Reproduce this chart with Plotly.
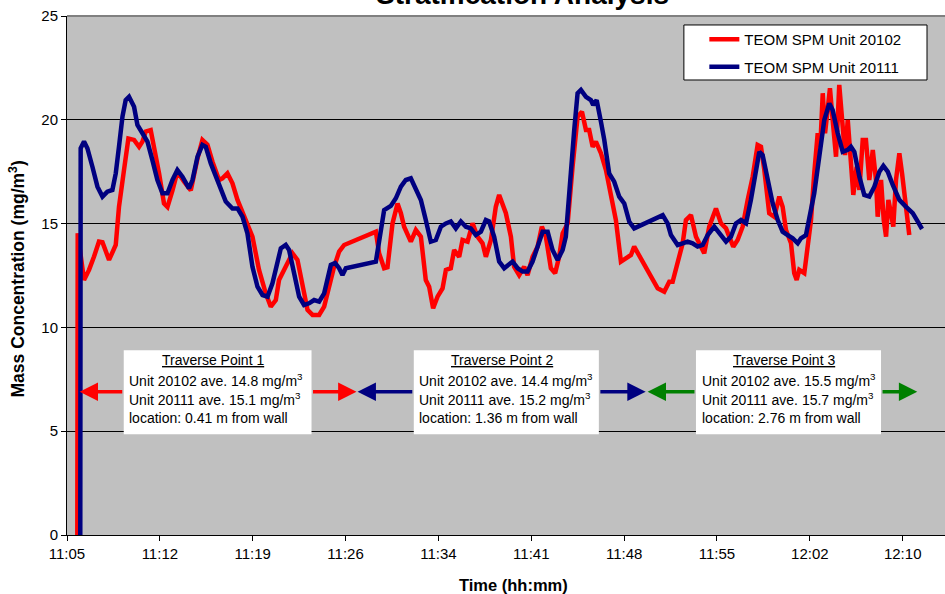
import plotly.graph_objects as go

# ---- data (time in minutes after 11:05, concentration in mg/m3) ----
red_t = [0.80, 0.83, 1.32, 1.71, 2.09, 2.48, 2.75, 3.00, 3.26, 3.78, 4.03, 4.42, 4.76, 5.20, 5.59,
         5.85, 6.10, 6.49, 6.75, 7.14, 7.52, 7.79, 8.18, 8.56, 9.08, 9.60, 10.12, 10.50, 10.89,
         11.28, 11.79, 12.05, 12.44, 12.83, 13.22, 13.86, 14.38, 14.89, 15.41, 15.80, 16.19,
         16.44, 16.96, 17.48, 17.87, 18.26, 18.65, 19.04, 19.55, 19.94, 20.32, 20.71, 21.10,
         21.49, 23.95, 24.20, 24.59, 24.85, 25.24, 25.63, 25.89, 26.14, 26.66, 27.05, 27.44,
         27.82, 28.08, 28.39, 28.73, 29.12, 29.38, 29.76, 30.02, 30.41, 30.67, 31.06, 31.45,
         31.83, 32.22, 32.48, 32.87, 33.25, 33.51, 33.77, 34.03, 34.42, 34.67, 35.06, 35.45,
         35.71, 36.10, 36.49, 36.82, 37.13, 37.52, 37.85, 38.16, 38.43, 38.82, 39.20, 39.59,
         39.93, 40.24, 40.49, 40.76, 41.01, 41.40, 41.79, 42.18, 42.56, 42.95, 43.34, 43.73,
         43.98, 45.80, 46.31, 46.70, 46.96, 47.35, 47.74, 47.99, 48.38, 48.77, 49.02, 49.41,
         49.80, 50.32, 50.71, 51.10, 51.35, 51.66, 52.00, 52.39, 52.78, 53.17, 53.55, 53.81,
         54.07, 54.45, 54.84, 55.23, 55.49, 55.75, 56.14, 56.39, 56.58, 56.78, 57.17, 57.43,
         57.69, 57.94, 58.21, 58.41, 58.60, 58.78, 58.93, 59.16, 59.37, 59.63, 59.88, 60.15,
         60.33, 60.54, 60.71, 60.97, 61.23, 61.44, 61.70, 61.95, 62.21, 62.48, 62.73, 62.86,
         63.12, 63.33, 63.51, 63.69, 63.89, 64.07, 64.28, 64.54, 64.75, 64.93, 65.14, 65.31]
red_v = [0.0, 14.53, 12.28, 12.77, 13.40, 14.13, 14.10, 13.73, 13.25, 13.97, 15.80, 17.58, 19.10,
         19.03, 18.70, 18.95, 19.43, 19.50, 18.70, 17.42, 15.97, 15.80, 16.60, 17.50, 17.02,
         16.60, 18.14, 19.03, 18.80, 17.98, 17.10, 17.18, 17.42, 16.94, 16.14, 15.17, 14.37,
         12.77, 11.64, 11.00, 11.32, 12.28, 12.92, 13.57, 13.25, 12.12, 10.84, 10.60, 10.60,
         11.00, 11.96, 12.92, 13.65, 13.97, 14.61, 13.57, 12.85, 12.90, 15.01, 15.97, 15.50,
         14.85, 14.13, 14.69, 14.37, 12.28, 11.96, 10.92, 11.48, 11.88, 12.77, 12.85, 13.73,
         13.40, 14.21, 14.13, 15.01, 14.37, 14.05, 13.40, 14.21, 15.81, 16.38, 15.97, 15.50,
         14.37, 12.92, 12.52, 12.92, 12.52, 13.40, 13.89, 14.85, 14.37, 12.85, 12.61, 13.40,
         14.53, 15.01, 17.74, 20.15, 20.39, 19.51, 19.51, 18.70, 18.95, 18.39, 17.58, 16.30,
         15.17, 13.17, 13.33, 13.49, 13.89, 11.88, 11.72, 12.20, 12.20, 13.17, 14.05, 15.17,
         15.41, 14.37, 14.05, 13.57, 14.85, 15.73, 15.01, 14.77, 14.37, 13.89, 14.21, 14.85,
         16.14, 17.26, 18.79, 18.70, 17.58, 15.50, 15.33, 16.30, 15.81, 14.69, 14.05, 12.61,
         12.28, 12.77, 12.61, 13.89, 15.17, 17.42, 19.35, 18.70, 21.28, 19.35, 20.15, 21.52,
         19.99, 18.22, 21.68, 19.83, 18.30, 19.99, 18.70, 16.38, 17.74, 16.62, 19.03, 19.03,
         17.10, 18.55, 17.10, 15.33, 17.10, 15.17, 14.37, 16.14, 15.50, 14.85, 17.10, 18.39,
         17.42, 16.46, 15.81, 14.45]

blue_t = [1.03, 1.06, 1.32, 1.58, 1.97, 2.36, 2.75, 3.13, 3.52, 3.78, 4.03, 4.30, 4.55, 4.81,
          5.20, 5.46, 5.85, 6.24, 6.62, 7.01, 7.40, 7.79, 8.18, 8.56, 8.95, 9.46, 9.73, 10.12,
          10.50, 10.76, 11.15, 11.53, 11.92, 12.31, 12.83, 13.22, 13.61, 13.99, 14.38, 14.77,
          15.16, 15.55, 15.93, 16.32, 16.58, 16.96, 17.22, 17.61, 18.00, 18.38, 18.77, 19.16,
          19.55, 19.94, 20.20, 20.46, 20.79, 21.10, 21.36, 21.62, 23.95, 24.33, 24.59, 25.11,
          25.50, 25.89, 26.27, 26.66, 27.05, 27.44, 27.82, 28.21, 28.60, 28.99, 29.38, 29.76,
          30.15, 30.54, 30.93, 31.31, 31.70, 32.09, 32.48, 32.73, 33.12, 33.51, 33.90, 34.55,
          34.94, 35.33, 35.71, 36.10, 36.49, 36.88, 37.27, 37.65, 38.04, 38.43, 38.68, 38.99,
          39.33, 39.59, 39.85, 40.24, 40.62, 40.80, 41.07, 41.40, 41.66, 42.04, 42.43, 42.82,
          43.21, 43.60, 43.98, 46.19, 46.57, 46.83, 47.35, 47.74, 48.12, 48.51, 48.90, 49.29,
          49.68, 50.19, 50.58, 51.10, 51.48, 51.87, 52.26, 52.65, 53.03, 53.42, 53.68, 53.94,
          54.33, 54.72, 55.11, 55.49, 55.88, 56.27, 56.66, 56.91, 57.30, 57.56, 57.94, 58.33,
          58.72, 59.11, 59.37, 59.76, 60.15, 60.54, 60.79, 61.05, 61.44, 61.82, 62.21, 62.60,
          62.99, 63.30, 63.64, 64.03, 64.54, 65.06, 65.58, 65.97, 66.30]
blue_v = [0.0, 18.63, 18.95, 18.63, 17.74, 16.78, 16.30, 16.54, 16.62, 17.42, 18.70, 20.15,
          20.95, 21.11, 20.63, 19.75, 19.35, 18.95, 18.06, 17.10, 16.46, 16.46, 17.10, 17.58,
          17.26, 16.70, 17.10, 18.22, 18.79, 18.70, 17.90, 17.26, 16.62, 16.06, 15.73, 15.73,
          15.33, 14.53, 12.92, 11.96, 11.56, 11.48, 12.12, 13.17, 13.81, 13.97, 13.73, 12.61,
          11.48, 11.08, 11.16, 11.32, 11.24, 11.64, 12.28, 13.01, 13.10, 12.85, 12.52, 12.85,
          13.17, 14.85, 15.65, 15.85, 16.22, 16.78, 17.10, 17.18, 16.70, 16.14, 15.17, 14.13,
          14.21, 14.85, 15.01, 15.10, 14.77, 15.10, 14.85, 14.77, 14.45, 14.61, 15.17, 15.10,
          14.37, 13.17, 12.85, 13.17, 12.85, 12.69, 12.69, 13.17, 13.89, 14.61, 14.61, 13.73,
          13.25, 13.73, 14.37, 17.10, 19.51, 21.28, 21.44, 21.11, 20.95, 20.71, 20.95, 19.91,
          19.03, 17.42, 17.02, 16.30, 15.97, 15.09, 14.77, 15.41, 15.01, 14.45, 13.97, 14.05,
          14.13, 14.05, 13.89, 13.97, 14.45, 14.85, 14.53, 14.13, 14.37, 15.01, 15.17, 15.01,
          16.14, 17.74, 18.46, 18.30, 17.10, 15.97, 15.17, 14.61, 14.45, 14.29, 14.05, 14.29,
          14.45, 15.17, 16.46, 18.22, 19.99, 20.79, 20.47, 19.35, 18.46, 18.55, 18.70, 18.46,
          17.26, 16.38, 16.30, 16.78, 17.50, 17.78, 17.50, 16.86, 16.14, 15.81, 15.50, 15.09,
          14.74]

series_names = ["TEOM SPM Unit 20102", "TEOM SPM Unit 20111"]
tick_vals = [0, 7.2, 14.4, 21.6, 28.8, 36.0, 43.2, 50.4, 57.6, 64.8]
tick_text = ["11:05", "11:12", "11:19", "11:26", "11:34", "11:41", "11:48", "11:55", "12:02", "12:10"]

traverse_titles = ["Traverse Point 1", "Traverse Point 2", "Traverse Point 3"]
ave_20102 = [14.8, 14.4, 15.5]
ave_20111 = [15.1, 15.2, 15.7]
locations = [0.41, 1.36, 2.76]
arrow_colors = ["#FF0000", "#000080", "#008000"]
# traverse segments: arrow tips (start, end) and label box extents, minutes
seg_tips = [(0.98, 22.45), (22.53, 44.87), (45.02, 65.93)]
box_x = [(4.40, 18.96), (26.89, 41.24), (48.77, 63.12)]
box_y = (4.85, 8.90)
arrow_y = 6.9

FONT = "Liberation Sans, Arial, sans-serif"

fig = go.Figure()
fig.add_trace(go.Scatter(x=red_t, y=red_v, mode="lines", name=series_names[0],
                         legendgroup="a", line=dict(color="#FF0000", width=4.5)))
fig.add_trace(go.Scatter(x=blue_t, y=blue_v, mode="lines", name=series_names[1],
                         legendgroup="b", line=dict(color="#000080", width=4.5)))

shapes = []
annotations = []
line_y = [8.43, 7.47, 6.54, 5.64]
for i in range(3):
    x0, x1 = box_x[i]
    shapes.append(dict(type="rect", xref="x", yref="y", x0=x0, x1=x1, y0=box_y[0], y1=box_y[1],
                       fillcolor="white", line=dict(width=0), layer="above"))
    tl, tr = seg_tips[i]
    for tail, tip in ((x0, tl), (x1, tr)):
        annotations.append(dict(x=tip, y=arrow_y, ax=tail, ay=arrow_y, xref="x", yref="y",
                                axref="x", ayref="y", text="", showarrow=True, arrowhead=2,
                                arrowsize=1.05, arrowwidth=3.5, arrowcolor=arrow_colors[i]))
    annotations.append(dict(x=(x0 + x1) / 2 - 0.33, y=line_y[0], xref="x", yref="y",
                            text="<u>" + traverse_titles[i] + "</u>", showarrow=False,
                            xanchor="center", yanchor="middle",
                            font=dict(family=FONT, size=14, color="black")))
    body = ["Unit 20102 ave. %.1f mg/m<sup>3</sup>" % ave_20102[i],
            "Unit 20111 ave. %.1f mg/m<sup>3</sup>" % ave_20111[i],
            "location: %.2f m from wall" % locations[i]]
    for j, txt in enumerate(body):
        annotations.append(dict(x=x0 + 0.28, y=line_y[j + 1], xref="x", yref="y", text=txt,
                                showarrow=False, xanchor="left", yanchor="middle",
                                font=dict(family=FONT, size=14, color="black")))

# top border of plot area
shapes.append(dict(type="line", xref="paper", yref="paper", x0=0, x1=1, y0=1, y1=1,
                   line=dict(color="#808080", width=2), layer="above"))
# legend frame (legend itself is drawn on top of it)
shapes.append(dict(type="rect", xref="paper", yref="paper", x0=0.7026, x1=0.9795,
                   y0=0.8767, y1=0.9827, fillcolor="white",
                   line=dict(color="black", width=1), layer="above"))

annotations.append(dict(x=0.5186, y=1.0414, xref="paper", yref="paper",
                        text="<b>Stratification Analysis</b>", showarrow=False,
                        xanchor="center", yanchor="middle",
                        font=dict(family=FONT, size=28, color="black")))
annotations.append(dict(x=-0.0567, y=0.4927, xref="paper", yref="paper",
                        text="<b>Mass Concentration (mg/m<sup>3</sup>)</b>", showarrow=False,
                        textangle=-90, xanchor="center", yanchor="middle",
                        font=dict(family=FONT, size=17.5, color="black")))
annotations.append(dict(x=0.5087, y=-0.0963, xref="paper", yref="paper",
                        text="<b>Time (hh:mm)</b>", showarrow=False,
                        xanchor="center", yanchor="middle",
                        font=dict(family=FONT, size=16.5, color="black")))

fig.update_layout(
    width=945, height=594,
    margin=dict(l=67, r=0, t=16, b=59),
    paper_bgcolor="white", plot_bgcolor="#C0C0C0",
    font=dict(family=FONT, size=15, color="black"),
    showlegend=True,
    legend=dict(x=0.7259, y=0.9866, xanchor="left", yanchor="top",
                bgcolor="rgba(0,0,0,0)", borderwidth=0, tracegroupgap=5,
                font=dict(family=FONT, size=15, color="black")),
    shapes=shapes, annotations=annotations,
    xaxis=dict(range=[0, 68.08], tickvals=tick_vals, ticktext=tick_text,
               showgrid=False, zeroline=False, showline=True, linecolor="black", linewidth=1,
               ticks="outside", ticklen=5, tickcolor="black",
               tickfont=dict(family=FONT, size=15, color="black")),
    yaxis=dict(range=[0, 25], tickvals=[0, 5, 10, 15, 20, 25],
               showgrid=True, gridcolor="black", gridwidth=1, zeroline=False,
               showline=True, linecolor="black", linewidth=1,
               ticks="outside", ticklen=5, tickcolor="black",
               tickfont=dict(family=FONT, size=15, color="black")),
)

fig.write_html("out.html", config={"displayModeBar": False},
               post_script="document.body.style.margin='0';document.body.style.overflow='hidden';")
